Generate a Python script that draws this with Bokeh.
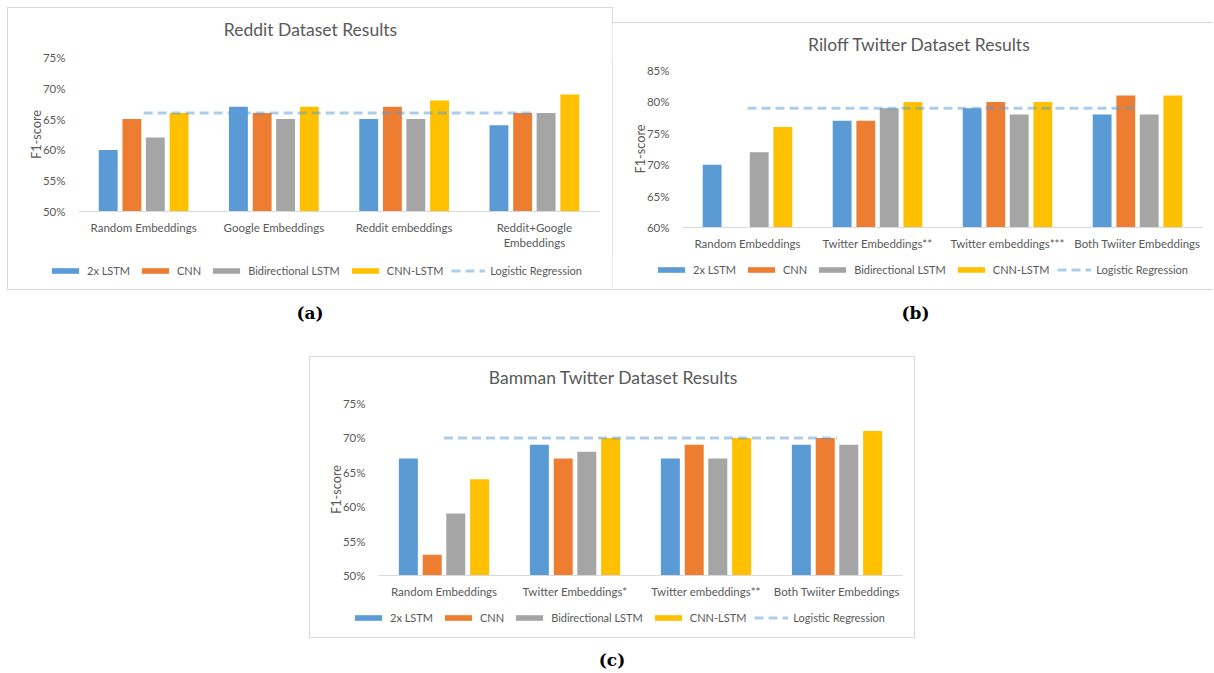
from bokeh.plotting import figure
from bokeh.models import (ColumnDataSource, FactorRange, Range1d, FixedTicker,
                          NumeralTickFormatter, Legend, LegendItem, Div, Spacer, Label)
from bokeh.layouts import row, column
from bokeh.transform import dodge
from bokeh.embed import file_html
from bokeh.resources import INLINE

NaN = float("nan")

# ---------------- data ----------------
series_names = ["2x LSTM", "CNN", "Bidirectional LSTM", "CNN-LSTM"]
series_colors = ["#5B9BD5", "#ED7D31", "#A5A5A5", "#FFC000"]
lr_name = "Logistic Regression"

reddit_title = "Reddit Dataset Results"
reddit_cats = ["Random Embeddings", "Google Embeddings", "Reddit embeddings",
               "Reddit+Google\nEmbeddings"]
reddit_lstm2 = [0.60, 0.67, 0.65, 0.64]
reddit_cnn = [0.65, 0.66, 0.67, 0.66]
reddit_bilstm = [0.62, 0.65, 0.65, 0.66]
reddit_cnnlstm = [0.66, 0.67, 0.68, 0.69]
reddit_lr = 0.66
reddit_ticks = [0.50, 0.55, 0.60, 0.65, 0.70, 0.75]

riloff_title = "Riloff Twitter Dataset Results"
riloff_cats = ["Random Embeddings", "Twitter Embeddings**", "Twitter embeddings***",
               "Both Twiiter Embeddings"]
riloff_lstm2 = [0.70, 0.77, 0.79, 0.78]
riloff_cnn = [NaN, 0.77, 0.80, 0.81]
riloff_bilstm = [0.72, 0.79, 0.78, 0.78]
riloff_cnnlstm = [0.76, 0.80, 0.80, 0.81]
riloff_lr = 0.79
riloff_ticks = [0.60, 0.65, 0.70, 0.75, 0.80, 0.85]

bamman_title = "Bamman Twitter Dataset Results"
bamman_cats = ["Random Embeddings", "Twitter Embeddings*", "Twitter embeddings**",
               "Both Twiiter Embeddings"]
bamman_lstm2 = [0.67, 0.69, 0.67, 0.69]
bamman_cnn = [0.53, 0.67, 0.69, 0.70]
bamman_bilstm = [0.59, 0.68, 0.67, 0.69]
bamman_cnnlstm = [0.64, 0.70, 0.70, 0.71]
bamman_lr = 0.70
bamman_ticks = [0.50, 0.55, 0.60, 0.65, 0.70, 0.75]

captions = ["(a)", "(b)", "(c)"]

# ---------------- styling ----------------
FONT = "Lato"
TXT = "#595959"
BAR_W = 0.145
OFFSETS = [-0.272, -0.09, 0.09, 0.272]
LR_COLOR = "#5B9BD5"
LR_ALPHA = 0.5
LR_DASH = "9 5"


def bare_figure(w, h, x_range=None, y_range=None):
    f = figure(width=w, height=h, x_range=x_range or Range1d(0, 1),
               y_range=y_range or Range1d(0, 1), min_border=0,
               x_axis_location=None, y_axis_location=None,
               output_backend="svg", toolbar_location=None)
    f.frame_align = False
    f.grid.visible = False
    f.outline_line_color = None
    return f


def add_series(p, src, ticks):
    rs = []
    for i, name in enumerate(series_names):
        rs.append(p.vbar(x=dodge("cat", OFFSETS[i], range=p.x_range), top="s%d" % i,
                         bottom=ticks[0], width=BAR_W, source=src,
                         fill_color=series_colors[i], line_color=None))
    rs.append(p.line(x="cat", y="lr", source=src, line_color=LR_COLOR,
                     line_alpha=LR_ALPHA, line_width=3, line_dash=LR_DASH))
    return rs


def make_chart(title, cats, series_vals, lr, ticks, w, title_h, title_pos, h,
               left, right, top, bottom, leg_h, leg_loc, styles):
    data = {"cat": cats}
    for i, vals in enumerate(series_vals):
        data["s%d" % i] = vals
    data["lr"] = [lr] * len(cats)
    src = ColumnDataSource(data)

    # title strip
    tf = bare_figure(w, title_h)
    tf.add_layout(Label(x=title_pos[0], y=title_pos[1], x_units="screen", y_units="screen",
                        text=title, text_align="center", text_baseline="middle",
                        text_font=FONT, text_font_size="17.5px", text_color=TXT))

    # main chart
    p = figure(x_range=FactorRange(factors=cats), y_range=Range1d(ticks[0], ticks[-1]),
               width=w, height=h, min_border_left=left, min_border_right=right,
               min_border_top=top, min_border_bottom=bottom,
               output_backend="svg", toolbar_location=None)
    p.frame_align = False
    add_series(p, src, ticks)
    p.xgrid.grid_line_color = None
    p.ygrid.grid_line_color = None
    p.outline_line_color = None

    xa = p.xaxis[0]
    xa.axis_line_color = "#D9D9D9"
    xa.major_tick_line_color = None
    xa.minor_tick_line_color = None
    xa.major_label_standoff = 3
    xa.major_label_text_font = FONT
    xa.major_label_text_font_size = "11.5px"
    xa.major_label_text_color = TXT

    ya = p.yaxis[0]
    ya.ticker = FixedTicker(ticks=ticks)
    ya.formatter = NumeralTickFormatter(format="0%")
    ya.axis_line_color = None
    ya.major_tick_line_color = None
    ya.minor_tick_line_color = None
    ya.major_label_standoff = 7
    ya.major_label_text_font = FONT
    ya.major_label_text_font_size = "11.5px"
    ya.major_label_text_color = TXT
    ya.axis_label = "F1-score"
    ya.axis_label_standoff = -4
    ya.axis_label_text_font = FONT
    ya.axis_label_text_font_size = "12.7px"
    ya.axis_label_text_font_style = "normal"
    ya.axis_label_text_color = TXT

    # legend strip: same series, plotted outside its visible y window
    lf = bare_figure(w, leg_h, x_range=FactorRange(factors=cats),
                     y_range=Range1d(ticks[-1] + 10, ticks[-1] + 11))
    rs = add_series(lf, src, ticks)
    items = [LegendItem(label=n, renderers=[r]) for n, r in zip(series_names + [lr_name], rs)]
    legend = Legend(items=items, orientation="horizontal", location=leg_loc,
                    background_fill_alpha=0, border_line_color=None, padding=0, margin=0,
                    spacing=8, label_standoff=5, glyph_width=34, glyph_height=7,
                    label_text_font=FONT, label_text_font_size="11px",
                    label_text_color=TXT)
    lf.add_layout(legend, "center")

    return column(tf, p, lf, styles=styles)


ring = {"box-shadow": "0 0 0 1px #D9D9D9"}
top_bottom = {"box-shadow": "0 -1px 0 0 #D9D9D9, 0 1px 0 0 #D9D9D9"}

chart_a = make_chart(reddit_title, reddit_cats,
                     [reddit_lstm2, reddit_cnn, reddit_bilstm, reddit_cnnlstm], reddit_lr,
                     reddit_ticks, 604, 38, (302, 17), 209, 70, 13, 11, 44, 34, (40, 12),
                     ring)
chart_b = make_chart(riloff_title, riloff_cats,
                     [riloff_lstm2, riloff_cnn, riloff_bilstm, riloff_cnnlstm], riloff_lr,
                     riloff_ticks, 601, 38, (307, 17), 194, 70, 11, 9, 28, 34, (42, 13),
                     top_bottom)
chart_c = make_chart(bamman_title, bamman_cats,
                     [bamman_lstm2, bamman_cnn, bamman_bilstm, bamman_cnnlstm], bamman_lr,
                     bamman_ticks, 604, 38, (303, 18), 208, 68, 12, 8, 28, 34, (41, 13),
                     ring)


def caption(txt, w, h, top, shift=0):
    html = ('<div style="width:%dpx;text-align:center;font-family:\'DejaVu Serif\';'
            'font-weight:bold;font-size:17px;line-height:20px;color:#000;'
            'margin-top:%dpx;margin-left:%dpx">%s</div>') % (w - shift, top, shift, txt)
    return Div(text=html, width=w, height=h, margin=0)


layout = column(
    Spacer(width=10, height=8),
    row(Spacer(width=8, height=281), chart_a, column(Spacer(width=601, height=15), chart_b)),
    row(Spacer(width=8, height=68), caption(captions[0], 604, 68, 14),
        caption(captions[1], 601, 68, 14, 6)),
    row(Spacer(width=310, height=280), chart_c),
    row(Spacer(width=310, height=36), caption(captions[2], 604, 36, 13)),
)

open("out.html", "w").write(file_html(layout, INLINE))
